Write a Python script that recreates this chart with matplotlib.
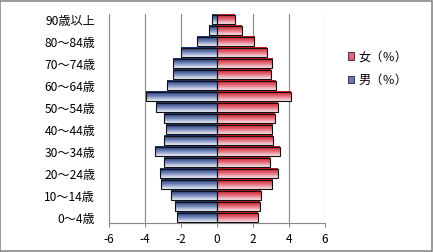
import numpy as np
import matplotlib
matplotlib.use('Agg')
import matplotlib.pyplot as plt
from matplotlib.colors import LinearSegmentedColormap
from matplotlib.patches import Rectangle

plt.rcParams['font.family'] = ['Noto Sans CJK JP', 'DejaVu Sans']

# --- data (bottom to top)
ages = ['0～4歳', '5～9歳', '10～14歳', '15～19歳', '20～24歳', '25～29歳',
        '30～34歳', '35～39歳', '40～44歳', '45～49歳', '50～54歳', '55～59歳',
        '60～64歳', '65～69歳', '70～74歳', '75～79歳', '80～84歳', '85～89歳',
        '90歳以上']
male = [-2.23, -2.34, -2.51, -3.07, -3.14, -2.90, -3.45, -2.90, -2.82, -2.95,
        -3.36, -3.92, -2.77, -2.40, -2.40, -1.96, -1.07, -0.43, -0.25]
female = [2.27, 2.38, 2.43, 3.05, 3.38, 2.93, 3.49, 3.10, 3.05, 3.21,
          3.38, 4.10, 3.27, 2.99, 3.05, 2.77, 2.08, 1.38, 0.99]
xticks = [-6, -4, -2, 0, 2, 4, 6]
shown = list(range(0, len(ages), 2))  # every other label

blue = LinearSegmentedColormap.from_list('b', ['#1b2f6b', '#6f83b8', '#eef1f8'])
red = LinearSegmentedColormap.from_list('r', ['#c8101c', '#e46a78', '#f8e4e8'])

fig = plt.figure(figsize=(4.33, 2.52), dpi=100)
ax = fig.add_axes([0.2506, 0.114, 0.5, 0.83])

h = 0.84
grad = np.linspace(0, 1, 64).reshape(-1, 1)
y = np.arange(len(ages))
for i in y:
    ax.imshow(grad, cmap=blue, extent=(male[i], 0, i - h / 2, i + h / 2),
              aspect='auto', origin='upper', zorder=2, interpolation='bilinear')
    ax.imshow(grad, cmap=red, extent=(0, female[i], i - h / 2, i + h / 2),
              aspect='auto', origin='upper', zorder=2, interpolation='bilinear')
ax.barh(y, male, height=h, fill=False, edgecolor='#111111', lw=0.8, zorder=3)
ax.barh(y, female, height=h, fill=False, edgecolor='#111111', lw=0.8, zorder=3)

ax.set_xlim(-6, 6)
ax.set_ylim(-0.5, len(ages) - 0.5)
ax.set_xticks(xticks)
ax.set_xticklabels([str(t) for t in xticks], fontsize=8.5)
ax.set_yticks(shown)
ax.set_yticklabels([ages[i] for i in shown], fontsize=8.7)
ax.tick_params(axis='y', length=0, pad=9.5)
ax.tick_params(axis='x', length=3, color='#888888', pad=4)
ax.grid(axis='x', color='#888888', lw=0.8, zorder=0)
ax.set_axisbelow(True)
for s in ['top', 'right']:
    ax.spines[s].set_visible(False)
for s in ['left', 'bottom']:
    ax.spines[s].set_color('#888888')
    ax.spines[s].set_linewidth(0.8)

handles = [Rectangle((0, 0), 1, 1, facecolor='#dd6a76', edgecolor='#222222', lw=0.6),
           Rectangle((0, 0), 1, 1, facecolor='#6a7db2', edgecolor='#222222', lw=0.6)]
fig.legend(handles, ['女（％）', '男（％）'], loc='upper left',
           bbox_to_anchor=(0.803, 0.80), frameon=False, fontsize=8.8,
           handlelength=0.55, handleheight=0.55, handletextpad=0.35,
           labelspacing=0.85, borderpad=0, borderaxespad=0)

fig.patches.append(Rectangle((0.001, 0.002), 0.997, 0.996, transform=fig.transFigure,
                             fill=False, edgecolor='#888888', lw=1.2))

fig.savefig('out.png', dpi=100)
